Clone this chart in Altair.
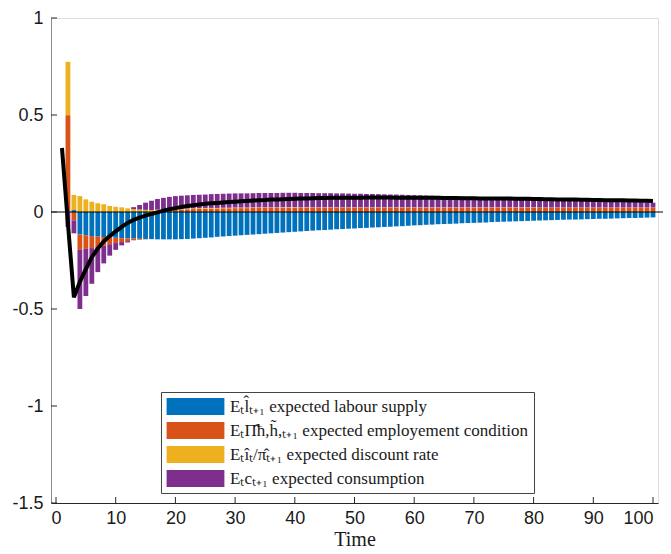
import altair as alt
import pandas as pd

# ---- data ----
time = list(range(1, 101))

labour = [0.0, 0.004, 0.01, -0.115, -0.12, -0.124, -0.127, -0.129, -0.131, -0.133,
          -0.135, -0.136, -0.137, -0.138, -0.139, -0.140, -0.141, -0.141, -0.141, -0.141,
          -0.140, -0.139, -0.137, -0.135, -0.133, -0.131, -0.128, -0.126, -0.124, -0.122,
          -0.120, -0.118, -0.116, -0.114, -0.112, -0.110, -0.108, -0.106, -0.104, -0.102,
          -0.100, -0.098, -0.096, -0.094, -0.093, -0.091, -0.089, -0.088, -0.086, -0.085,
          -0.083, -0.082, -0.080, -0.079, -0.077, -0.076, -0.074, -0.073, -0.071, -0.069,
          -0.068, -0.066, -0.065, -0.063, -0.062, -0.061, -0.060, -0.058, -0.057, -0.056,
          -0.055, -0.054, -0.052, -0.051, -0.050, -0.049, -0.048, -0.047, -0.046, -0.045,
          -0.044, -0.043, -0.042, -0.041, -0.040, -0.039, -0.039, -0.038, -0.037, -0.036,
          -0.035, -0.035, -0.034, -0.033, -0.032, -0.031, -0.031, -0.030, -0.029, -0.028]

employment = [0.0, 0.495, -0.043, -0.080, -0.070, -0.062, -0.053, -0.044, -0.035, -0.027,
              -0.020, -0.014, -0.009, -0.005, -0.002, 0.001, 0.004, 0.007, 0.009, 0.011,
              0.013, 0.014, 0.015, 0.016, 0.017, 0.018, 0.018, 0.019, 0.019, 0.020,
              0.020, 0.020, 0.021, 0.021, 0.021, 0.021, 0.021, 0.022, 0.022, 0.022,
              0.022, 0.022, 0.022, 0.022, 0.022, 0.022, 0.022, 0.022, 0.022, 0.022,
              0.022, 0.022, 0.022, 0.022, 0.022, 0.022, 0.022, 0.022, 0.022, 0.022,
              0.022, 0.022, 0.022, 0.022, 0.022, 0.022, 0.022, 0.022, 0.022, 0.022,
              0.022, 0.022, 0.022, 0.022, 0.022, 0.022, 0.022, 0.022, 0.022, 0.022,
              0.021, 0.021, 0.021, 0.021, 0.021, 0.021, 0.021, 0.021, 0.021, 0.021,
              0.021, 0.021, 0.021, 0.021, 0.021, 0.021, 0.021, 0.021, 0.021, 0.021]

discount = [0.0, 0.275, 0.078, 0.082, 0.065, 0.053, 0.045, 0.040, 0.031, 0.027,
            0.024, 0.019, 0.015, 0.013, 0.011, 0.009, 0.008, 0.007, 0.006, 0.005,
            0.005, 0.004, 0.004, 0.004, 0.004, 0.003, 0.003, 0.003, 0.003, 0.003,
            0.003, 0.003, 0.003, 0.003, 0.003, 0.003, 0.003, 0.003, 0.003, 0.003,
            0.002, 0.002, 0.002, 0.002, 0.002, 0.002, 0.002, 0.002, 0.002, 0.002,
            0.002, 0.002, 0.002, 0.002, 0.002, 0.002, 0.002, 0.002, 0.002, 0.002,
            0.002, 0.002, 0.002, 0.002, 0.002, 0.002, 0.002, 0.002, 0.002, 0.002,
            0.002, 0.002, 0.002, 0.002, 0.002, 0.002, 0.002, 0.002, 0.002, 0.002,
            0.002, 0.002, 0.002, 0.002, 0.002, 0.002, 0.002, 0.002, 0.002, 0.002,
            0.002, 0.002, 0.002, 0.002, 0.002, 0.002, 0.002, 0.002, 0.002, 0.002]

consumption = [0.0, -0.077, -0.067, -0.305, -0.243, -0.184, -0.130, -0.092, -0.059, -0.035,
               -0.017, -0.007, 0.010, 0.023, 0.037, 0.048, 0.055, 0.059, 0.063, 0.066,
               0.066, 0.068, 0.069, 0.069, 0.069, 0.071, 0.072, 0.072, 0.073, 0.073,
               0.073, 0.073, 0.073, 0.074, 0.074, 0.074, 0.074, 0.074, 0.074, 0.074,
               0.074, 0.074, 0.074, 0.073, 0.073, 0.073, 0.072, 0.072, 0.071, 0.070,
               0.070, 0.069, 0.069, 0.068, 0.067, 0.066, 0.066, 0.065, 0.064, 0.063,
               0.062, 0.061, 0.060, 0.059, 0.058, 0.057, 0.056, 0.055, 0.054, 0.053,
               0.052, 0.051, 0.049, 0.048, 0.047, 0.046, 0.045, 0.044, 0.043, 0.042,
               0.041, 0.040, 0.039, 0.038, 0.037, 0.036, 0.036, 0.035, 0.034, 0.033,
               0.032, 0.032, 0.031, 0.030, 0.029, 0.029, 0.028, 0.027, 0.026, 0.025]

total = [0.33, -0.06, -0.44, -0.36, -0.295, -0.233, -0.188, -0.152, -0.124, -0.100,
         -0.077, -0.056, -0.040, -0.029, -0.019, -0.010, -0.002, 0.007, 0.014, 0.020,
         0.026, 0.031, 0.035, 0.039, 0.042, 0.045, 0.047, 0.049, 0.051, 0.053,
         0.055, 0.057, 0.059, 0.061, 0.062, 0.064, 0.065, 0.066, 0.067, 0.068,
         0.069, 0.070, 0.071, 0.072, 0.072, 0.073, 0.073, 0.074, 0.074, 0.074,
         0.074, 0.075, 0.075, 0.075, 0.075, 0.075, 0.074, 0.074, 0.074, 0.074,
         0.073, 0.073, 0.073, 0.073, 0.072, 0.072, 0.072, 0.071, 0.071, 0.071,
         0.070, 0.070, 0.070, 0.069, 0.069, 0.069, 0.068, 0.068, 0.068, 0.067,
         0.067, 0.066, 0.066, 0.065, 0.065, 0.064, 0.064, 0.063, 0.063, 0.062,
         0.062, 0.061, 0.061, 0.060, 0.060, 0.059, 0.059, 0.058, 0.058, 0.057]

series_labels = [
    "Eₜl̂ₜ₊₁ expected labour supply",
    "EₜΠ̂ħ,h̃,ₜ₊₁ expected employement condition",
    "Eₜîₜ/π̂ₜ₊₁ expected discount rate",
    "Eₜcₜ₊₁ expected consumption",
]
series_colors = ["#0072BD", "#D95319", "#EDB120", "#7E2F8E"]
y_ticks = [-1.5, -1, -0.5, 0, 0.5, 1]
x_ticks = [0, 10, 20, 30, 40, 50, 60, 70, 80, 90, 100]

# ---- tables ----
rows = []
for k, vals in enumerate([labour, employment, discount, consumption]):
    for t, v in zip(time, vals):
        rows.append({"t": t, "value": v, "series": series_labels[k], "ord": k})
bars_df = pd.DataFrame(rows)
line_df = pd.DataFrame({"t": time, "value": total})

W, H = 607, 485

x_scale = alt.Scale(domain=[0, 100], nice=False, zero=False)
y_scale = alt.Scale(domain=[-1.5, 1], nice=False)

x_axis = alt.Axis(values=x_ticks, title="Time", ticks=False, grid=False,
                  labelFont="Liberation Sans", labelFontSize=18, labelColor="#1a1a1a",
                  labelPadding=6, domainColor="#262626",
                  labelAlign=alt.condition("datum.value == 100", alt.value("right"), alt.value("center")),
                  titleFont="Liberation Serif", titleFontSize=20, titleFontWeight="normal",
                  titleColor="#1a1a1a", titlePadding=2)
y_axis = alt.Axis(values=y_ticks, title=None, ticks=False, grid=False,
                  labelFont="Liberation Sans", labelFontSize=18, labelColor="#1a1a1a",
                  labelPadding=8, domainColor="#8c8c8c", labelExpr="'' + datum.value")

bars = alt.Chart(bars_df).mark_bar(size=4.8).encode(
    x=alt.X("t:Q", scale=x_scale, axis=x_axis),
    y=alt.Y("value:Q", stack="zero", scale=y_scale, axis=y_axis),
    color=alt.Color("series:N",
                    scale=alt.Scale(domain=series_labels, range=series_colors),
                    legend=alt.Legend(
                        title=None, orient="none", legendX=110, legendY=374,
                        fillColor="white", strokeColor="#444", padding=6,
                        symbolType="M-3.4,-1H3.4V1H-3.4Z", symbolSize=289,
                        symbolStrokeWidth=0, symbolOffset=20, labelOffset=26,
                        labelFont="Liberation Serif", labelFontSize=17,
                        labelColor="#1a1a1a", labelLimit=500, rowPadding=6)),
    order=alt.Order("ord:Q"),
)

zero_df = pd.DataFrame({"y": [0]})
zero_rule = alt.Chart(zero_df).mark_rule(color="black", strokeWidth=1).encode(
    y=alt.Y("y:Q", scale=y_scale), x=alt.value(0), x2=alt.value(W + 5))

line = alt.Chart(line_df).mark_line(color="black", strokeWidth=4).encode(
    x=alt.X("t:Q", scale=x_scale), y=alt.Y("value:Q", scale=y_scale))

ytick_marks = alt.Chart(pd.DataFrame({"v": y_ticks})).mark_rule(color="#262626").encode(
    y=alt.Y("v:Q", scale=y_scale), x=alt.value(0), x2=alt.value(6))
xtick_marks = alt.Chart(pd.DataFrame({"v": x_ticks})).mark_rule(color="#262626").encode(
    x=alt.X("v:Q", scale=x_scale), y=alt.value(H), y2=alt.value(H - 6))

chart = alt.layer(bars, zero_rule, line, ytick_marks, xtick_marks).properties(
    width=W, height=H,
    autosize=alt.AutoSizeParams(type="none"),
    padding={"left": 43, "top": 10, "right": 5, "bottom": 45},
).configure_view(stroke=None).configure(background="white")

chart.save("out.html", embed_options={"renderer": "svg", "actions": False})
